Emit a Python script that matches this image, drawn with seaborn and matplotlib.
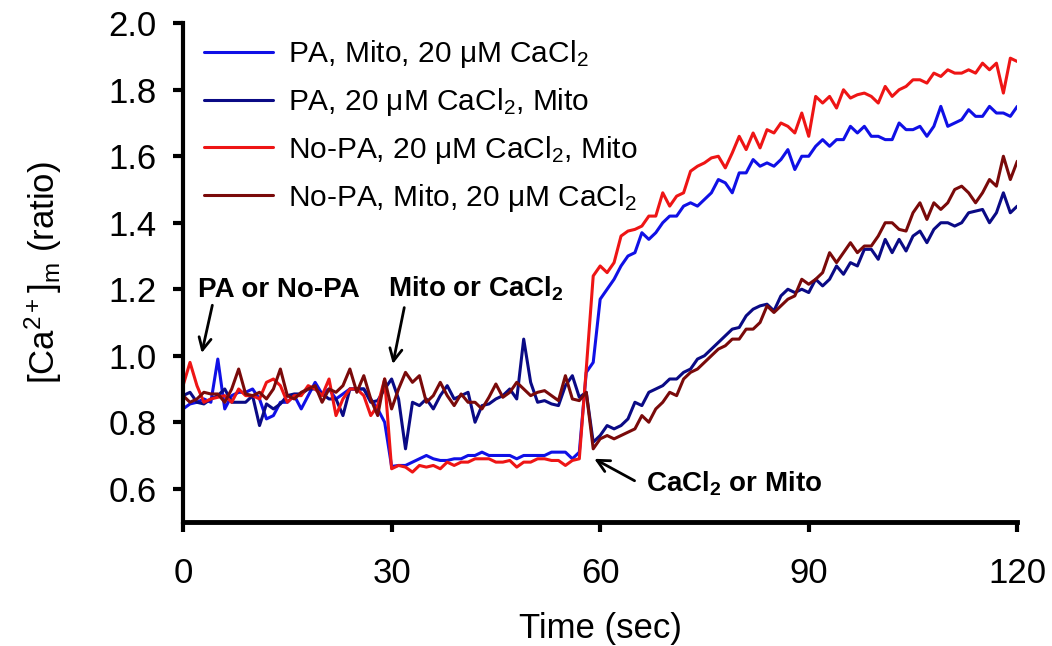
import numpy as np
import pandas as pd
import matplotlib
matplotlib.use("Agg")
import matplotlib.pyplot as plt
import seaborn as sns

time = list(range(0, 121))

labels = [
    "PA, Mito, 20 \u03bcM CaCl$_2$",
    "PA, 20 \u03bcM CaCl$_2$, Mito",
    "No-PA, 20 \u03bcM CaCl$_2$, Mito",
    "No-PA, Mito, 20 \u03bcM CaCl$_2$",
]
colors = ["#1010e6", "#0a0a85", "#ee1515", "#7a0a0a"]

pa_mito_ca = (
    [0.84, 0.855, 0.86, 0.87, 0.86, 0.99, 0.84, 0.88, 0.89, 0.89, 0.90, 0.87, 0.81, 0.82, 0.86,
     0.86, 0.88, 0.84, 0.88, 0.92, 0.885, 0.90, 0.87, 0.885, 0.90, 0.90, 0.90, 0.87, 0.84, 0.80]
    + [0.667, 0.67, 0.67, 0.68, 0.69, 0.70, 0.69, 0.685, 0.685, 0.69, 0.69, 0.70, 0.70, 0.71,
       0.70, 0.70, 0.70, 0.70, 0.69, 0.70, 0.70, 0.70, 0.70, 0.71, 0.71, 0.71, 0.69, 0.71]
    + [0.95, 0.98, 1.17, 1.20, 1.23, 1.27, 1.30, 1.31, 1.37, 1.35, 1.37, 1.40, 1.42, 1.42,
       1.45, 1.46, 1.45, 1.47, 1.49, 1.53, 1.52, 1.49]
    + [1.55, 1.55, 1.59, 1.57, 1.58, 1.57, 1.59, 1.62, 1.56, 1.60, 1.60, 1.63, 1.65, 1.63,
       1.65, 1.65, 1.69, 1.67, 1.69, 1.66, 1.66]
    + [1.65, 1.65, 1.70, 1.68, 1.68, 1.69, 1.66, 1.69, 1.75, 1.69, 1.70, 1.71, 1.74, 1.72,
       1.72, 1.75, 1.73, 1.73, 1.72, 1.75]
)

pa_ca_mito = (
    [0.88, 0.89, 0.86, 0.855, 0.87, 0.88, 0.90, 0.86, 0.86, 0.86, 0.88, 0.79, 0.855, 0.84, 0.855,
     0.88, 0.885, 0.885, 0.90, 0.90, 0.885, 0.87, 0.87, 0.82, 0.90, 0.90, 0.90, 0.86, 0.865, 0.90]
    + [0.93, 0.87, 0.72, 0.86, 0.85, 0.87, 0.84, 0.88, 0.91, 0.87, 0.88, 0.89, 0.80, 0.85, 0.855,
       0.87, 0.88, 0.90, 0.87, 1.05, 0.92, 0.86, 0.865, 0.855, 0.85, 0.91, 0.94, 0.875, 0.89]
    + [0.74, 0.76, 0.79, 0.78, 0.79, 0.81, 0.86, 0.85, 0.89, 0.90, 0.91, 0.93, 0.93, 0.95, 0.96,
       0.99, 1.00, 1.02, 1.04, 1.06, 1.08]
    + [1.085, 1.12, 1.14, 1.15, 1.155, 1.135, 1.18, 1.20, 1.19, 1.20, 1.19, 1.23, 1.21, 1.23,
       1.27, 1.245, 1.28, 1.27, 1.32, 1.32, 1.29]
    + [1.35, 1.31, 1.35, 1.315, 1.36, 1.375, 1.34, 1.38, 1.40, 1.40, 1.39, 1.40, 1.43, 1.435,
       1.44, 1.40, 1.43, 1.49, 1.43, 1.45]
)

nopa_ca_mito = (
    [0.91, 0.98, 0.91, 0.86, 0.87, 0.875, 0.88, 0.86, 0.90, 0.88, 0.88, 0.87, 0.92, 0.93, 0.91,
     0.86, 0.88, 0.88, 0.91, 0.90, 0.88, 0.93, 0.82, 0.87, 0.90, 0.90, 0.88, 0.82, 0.85, 0.93]
    + [0.66, 0.67, 0.665, 0.65, 0.67, 0.665, 0.67, 0.66, 0.68, 0.67, 0.68, 0.68, 0.69, 0.69,
       0.69, 0.68, 0.68, 0.685, 0.665, 0.68, 0.68, 0.69, 0.69, 0.685, 0.685, 0.67, 0.685, 0.69]
    + [0.96, 1.24, 1.27, 1.25, 1.28, 1.36, 1.375, 1.38, 1.39, 1.42, 1.42, 1.49, 1.45, 1.48,
       1.49, 1.555, 1.57, 1.58, 1.595, 1.60, 1.565, 1.61]
    + [1.66, 1.62, 1.67, 1.625, 1.68, 1.67, 1.70, 1.69, 1.67, 1.73, 1.66, 1.78, 1.76, 1.78,
       1.745, 1.80, 1.775, 1.785, 1.79, 1.78, 1.76]
    + [1.81, 1.78, 1.80, 1.81, 1.83, 1.83, 1.82, 1.85, 1.84, 1.86, 1.85, 1.85, 1.86, 1.85,
       1.88, 1.86, 1.88, 1.79, 1.895, 1.885]
)

nopa_mito_ca = (
    [0.88, 0.86, 0.87, 0.89, 0.885, 0.885, 0.86, 0.90, 0.96, 0.885, 0.88, 0.89, 0.87, 0.90, 0.96,
     0.88, 0.87, 0.89, 0.90, 0.91, 0.86, 0.90, 0.89, 0.91, 0.96, 0.89, 0.94, 0.87, 0.82, 0.93]
    + [0.84, 0.90, 0.95, 0.92, 0.94, 0.86, 0.88, 0.92, 0.88, 0.85, 0.885, 0.86, 0.86, 0.84, 0.875,
       0.915, 0.875, 0.89, 0.92, 0.90, 0.88, 0.89, 0.895, 0.88, 0.865, 0.94, 0.87, 0.865, 0.89]
    + [0.72, 0.75, 0.76, 0.75, 0.76, 0.77, 0.78, 0.82, 0.80, 0.84, 0.86, 0.89, 0.88, 0.93, 0.95,
       0.96, 0.98, 1.00, 1.02, 1.03, 1.05]
    + [1.05, 1.08, 1.08, 1.10, 1.15, 1.13, 1.15, 1.17, 1.18, 1.23, 1.215, 1.23, 1.25, 1.31,
       1.28, 1.31, 1.34, 1.31, 1.33, 1.33, 1.36]
    + [1.40, 1.40, 1.38, 1.375, 1.43, 1.46, 1.41, 1.46, 1.44, 1.46, 1.50, 1.51, 1.49, 1.46,
       1.49, 1.53, 1.51, 1.60, 1.53, 1.585]
)

x_ticks = [0, 30, 60, 90, 120]
y_ticks = [0.6, 0.8, 1.0, 1.2, 1.4, 1.6, 1.8, 2.0]

series = [pa_mito_ca, pa_ca_mito, nopa_ca_mito, nopa_mito_ca]
frames = []
for lab, vals in zip(labels, series):
    frames.append(pd.DataFrame({"time": time, "value": vals, "series": lab}))
df = pd.concat(frames, ignore_index=True)

sns.set_style("ticks")
plt.rcParams["font.family"] = ["Liberation Sans", "DejaVu Sans"]
plt.rcParams["mathtext.fontset"] = "custom"
plt.rcParams["mathtext.rm"] = "Liberation Sans"
plt.rcParams["mathtext.it"] = "Liberation Sans:italic"
plt.rcParams["mathtext.bf"] = "Liberation Sans:bold"
plt.rcParams["text.color"] = "black"
plt.rcParams["axes.labelcolor"] = "black"
plt.rcParams["xtick.color"] = "black"
plt.rcParams["ytick.color"] = "black"

fig = plt.figure(figsize=(10.52, 6.46), dpi=100)
ax = fig.add_axes([0.174, 0.192, 0.793, 0.772])

sns.lineplot(data=df, x="time", y="value", hue="series", hue_order=labels,
             palette=dict(zip(labels, colors)), linewidth=2.2, ax=ax)

ax.set_xlim(0, 120)
ax.set_ylim(0.5, 2.0)
ax.set_xticks(x_ticks)
ax.set_yticks(y_ticks)
ax.set_xticklabels([str(v) for v in x_ticks])
ax.set_yticklabels([f"{v:.1f}" for v in y_ticks])
ax.tick_params(axis="both", labelsize=25, width=3, length=7, direction="out",
               colors="black", labelcolor="black")
ax.tick_params(axis="x", pad=18)
ax.tick_params(axis="y", pad=12)
for s in ["top", "right"]:
    ax.spines[s].set_visible(False)
ax.spines["left"].set_linewidth(3)
ax.spines["bottom"].set_linewidth(3.5)
ax.spines["left"].set_color("black")
ax.spines["bottom"].set_color("black")

ax.set_xlabel("Time (sec)", fontsize=25, labelpad=16, color="black")
ax.set_ylabel(r"[Ca$^{2+}$]$_{\mathrm{m}}$ (ratio)", fontsize=25, labelpad=32, color="black")

handles, labs = ax.get_legend_handles_labels()
leg = ax.legend(handles, labs, loc="upper left", bbox_to_anchor=(0.0, 1.012), frameon=False,
                fontsize=21.5, handlelength=2.3, handletextpad=0.53, labelspacing=0.53,
                borderaxespad=0.3)
for ln in leg.get_lines():
    ln.set_linewidth(2.2)
for t in leg.get_texts():
    t.set_color("black")

ax.text(2.2, 1.177, "PA or No-PA", fontsize=20, fontweight="bold", ha="left", va="baseline")
ax.text(29.5, 1.177, r"Mito or CaCl$_\mathbf{2}$", fontsize=20, fontweight="bold",
        ha="left", va="baseline")
ax.text(66.6, 0.592, r"CaCl$_\mathbf{2}$ or Mito", fontsize=20, fontweight="bold",
        ha="left", va="baseline")

arrow = dict(arrowstyle="->", lw=2, color="black", mutation_scale=22)
ax.annotate("", xy=(2.6, 1.0), xytext=(4.3, 1.16), arrowprops=arrow)
ax.annotate("", xy=(30.1, 0.967), xytext=(31.9, 1.153), arrowprops=arrow)
ax.annotate("", xy=(58.8, 0.694), xytext=(65.3, 0.62), arrowprops=arrow)

fig.savefig("out.png", dpi=100)
